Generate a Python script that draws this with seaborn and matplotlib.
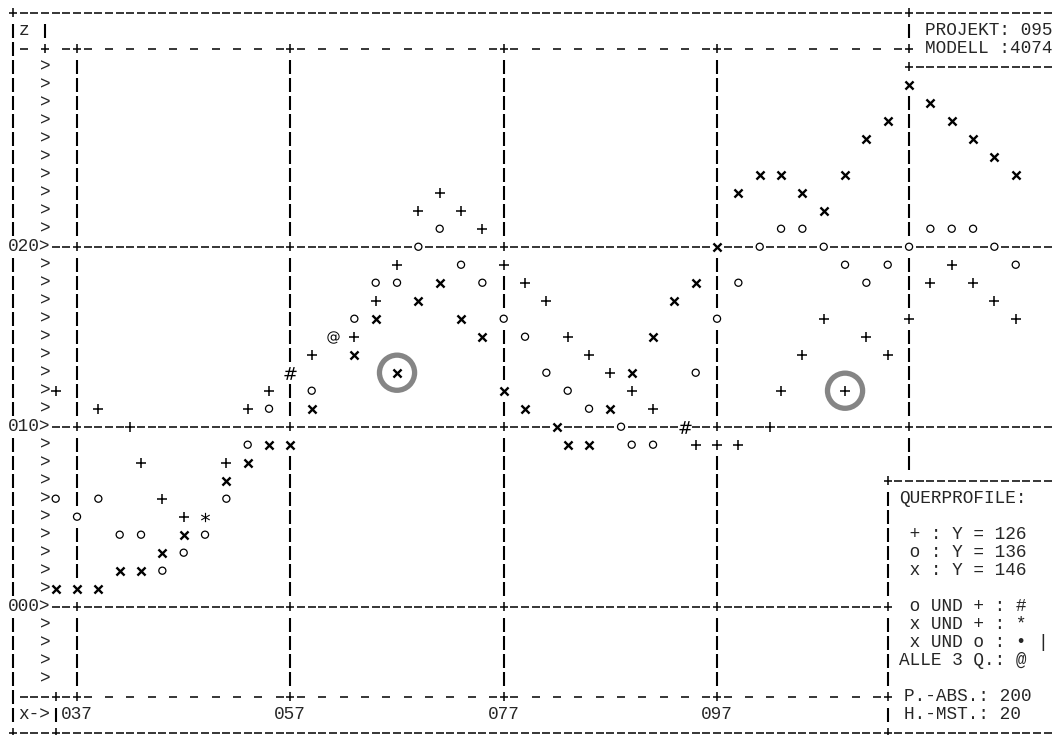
import pandas as pd
import seaborn as sns
import matplotlib.pyplot as plt

# Querprofile Y = 126 (+), Y = 136 (o), Y = 146 (x): station column and height row as printed
plus_x = [35, 39, 42, 43, 45, 47, 49, 51, 53, 55, 57, 59, 61, 63, 65, 67, 69, 71, 73, 75, 77, 79, 81, 83, 85,
          87, 89, 91, 94, 95, 97, 99, 102, 103, 105, 107, 109, 111, 113, 115, 117, 119, 121, 123, 125]
plus_z = [12, 11, 10, 8, 6, 5, 5, 8, 11, 12, 13, 14, 15, 15, 17, 19, 22, 23, 22, 21, 19, 18, 17, 15, 14,
          13, 12, 11, 10, 9, 9, 9, 10, 12, 14, 16, 12, 15, 14, 16, 18, 19, 18, 17, 16]
circ_x = [35, 37, 39, 41, 43, 45, 47, 49, 51, 53, 55, 57, 59, 61, 63, 65, 67, 69, 71, 73, 75, 77, 79, 81, 83,
          85, 88, 89, 91, 94, 95, 97, 99, 101, 103, 105, 107, 109, 111, 113, 115, 117, 119, 121, 123, 125]
circ_z = [6, 5, 6, 4, 4, 2, 3, 4, 6, 9, 11, 13, 12, 15, 16, 18, 18, 20, 21, 19, 18, 16, 15, 13, 12,
          11, 10, 9, 9, 10, 13, 16, 18, 20, 21, 21, 20, 19, 18, 19, 20, 21, 21, 21, 20, 19]
cross_x = [35, 37, 39, 41, 43, 45, 47, 49, 51, 53, 55, 57, 59, 61, 63, 65, 67, 69, 71, 73, 75, 77, 79, 82, 83,
           85, 87, 89, 91, 93, 95, 97, 99, 101, 103, 105, 107, 109, 111, 113, 115, 117, 119, 121, 123, 125]
cross_z = [1, 1, 1, 2, 2, 3, 4, 5, 7, 8, 9, 9, 11, 15, 14, 16, 13, 17, 18, 16, 15, 12, 11, 10, 9,
           9, 11, 13, 15, 17, 18, 20, 23, 24, 24, 23, 22, 24, 26, 27, 29, 28, 27, 26, 25, 24]
# hand-drawn rings
ring_x = [67, 109]
ring_z = [13, 12]

z_ticks = [0, 10, 20]
z_labels = ['000', '010', '020']
x_ticks = [37, 57, 77, 97]
x_labels = ['037', '057', '077', '097']

head_lines = ['PROJEKT: 095', 'MODELL :4074']
key_lines = ['QUERPROFILE:', '', ' + : Y = 126', ' o : Y = 136', ' x : Y = 146', '',
             ' o UND + : #', ' x UND + : *', ' x UND o : \u2022', 'ALLE 3 Q.: @']
foot_lines = ['P.-ABS.: 200', 'H.-MST.: 20']

sns.set_theme(style='white')
mono = ['Liberation Mono', 'DejaVu Sans Mono']
plt.rcParams['font.family'] = mono
FS = 12.8

fig = plt.figure(figsize=(10.57, 7.35), dpi=100)
ax = fig.add_axes([0, 0, 1, 1])
ax.set_xlim(29.78, 128.87)
ax.set_ylim(-7.13, 33.71)
ax.axis('off')

# merge coinciding points into the printer's combined symbols
points = {}
for name, xs, zs in [('+', plus_x, plus_z), ('o', circ_x, circ_z), ('x', cross_x, cross_z)]:
    for x, z in zip(xs, zs):
        points.setdefault((x, z), []).append(name)
combo = {'+': '+', 'o': 'o', 'x': 'x', '+o': '#', '+x': '*', 'ox': 'dot', '+ox': '@'}
df = pd.DataFrame([(x, z, combo[''.join(sorted(v))]) for (x, z), v in points.items()],
                  columns=['x', 'z', 'sym'])

# printer frame as a character canvas
grid = {}
def hrun(row, c0, c1, step=1):
    for c in range(c0, c1 + 1, step):
        grid[(c, row)] = '-'
def vrun(col, r0, r1):
    for r in range(r1, r0 + 1):
        grid[(col, r)] = '|'

hrun(33, 32, 128)
hrun(-7, 32, 128)
vrun(31, 32, -6)
for c in x_ticks:
    vrun(c, 30, -4)
vrun(115, 32, 8)
vrun(113, 6, -6)
vrun(34, 32, 32)
vrun(35, -6, -6)
hrun(31, 38, 114, 2)
hrun(-5, 38, 112, 2)
hrun(-5, 32, 34)
grid[(32, 31)] = '-'
grid[(36, 31)] = '-'
grid[(36, -5)] = '-'
hrun(30, 116, 128)
hrun(7, 114, 128)
for z in z_ticks:
    hrun(z, 35, 128 if z else 112)
    grid.pop((31, z), None)
for c in x_ticks:
    for r in z_ticks + [31, -5]:
        grid[(c, r)] = '+'
for r in [33, 31, 30, 10]:
    grid[(115, r)] = '+'
for r in [7, 0, -5, -7]:
    grid[(113, r)] = '+'
for key in [(31, 33), (31, -7), (34, 31), (35, -5), (35, -7)]:
    grid[key] = '+'
for r in range(-4, 31):
    if r not in z_ticks:
        grid[(34, r)] = '>'
for x, z in zip(df.x, df.z):
    grid.pop((x, z), None)

h = [k for k, ch in grid.items() if ch in '-+']
ax.hlines([r for c, r in h], [c - 0.37 for c, r in h], [c + 0.37 for c, r in h], color='black', lw=1.1)
v = [k for k, ch in grid.items() if ch == '|']
ax.vlines([c for c, r in v], [r - 0.39 for c, r in v], [r + 0.39 for c, r in v], color='black', lw=1.5)
p = [k for k, ch in grid.items() if ch == '+']
ax.vlines([c for c, r in p], [r - 0.24 for c, r in p], [r + 0.24 for c, r in p], color='black', lw=1.1)
for (c, r), ch in grid.items():
    if ch == '>':
        ax.text(c, r, ch, ha='center', va='center', fontsize=FS)

def put(col, row, s):
    ax.text(col - 0.5, row, s, ha='left', va='center', fontsize=FS)

put(32, 32, 'z')
for z, lab in zip(z_ticks, z_labels):
    put(31, z, lab + '>')
put(32, -6, 'x->')
for c, lab in zip(x_ticks, x_labels):
    put(c - 1, -6, lab)
for i, s in enumerate(head_lines):
    put(117, 32 - i, s)
for i, s in enumerate(key_lines):
    put(114.6, 6 - i, s)
for i, s in enumerate(foot_lines):
    put(115, -5 - i, s)
put(127.5, -2, '|')

# data marks
styles = {
    '+': dict(marker='+', s=50, linewidth=1.1),
    'o': dict(marker='o', s=26, facecolor='none', edgecolor='black', linewidth=0.9),
    'x': dict(marker='x', s=34, linewidth=1.7),
    '#': dict(marker=r'$\#$', s=85, linewidth=0),
    '*': dict(marker=r'$*$', s=45, linewidth=0),
    '@': dict(marker=r'$@$', s=80, linewidth=0),
    'dot': dict(marker='o', s=12, linewidth=0),
}
for sym, kw in styles.items():
    sub = df[df.sym == sym]
    if len(sub):
        sns.scatterplot(data=sub, x='x', y='z', color='black', ax=ax, legend=False, **kw)

sns.scatterplot(x=ring_x, y=ring_z, marker='o', s=640, facecolor='none', edgecolor='#858585',
                linewidth=3.8, ax=ax, legend=False)

fig.savefig('out.png', dpi=100)
